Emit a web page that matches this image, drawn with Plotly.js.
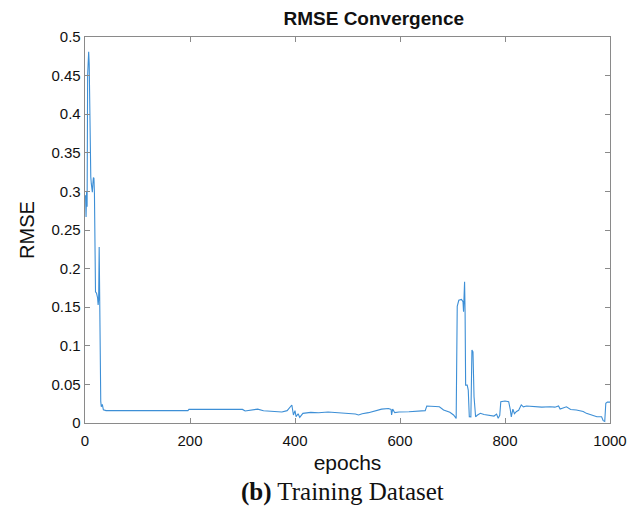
<!DOCTYPE html>
<html>
<head>
<meta charset="utf-8">
<script src="https://cdn.plot.ly/plotly-3.0.1.min.js"></script>
<style>html,body{margin:0;padding:0;background:#fff;}#chart{width:642px;height:517px;}</style>
</head>
<body>
<div id="chart"></div>
<script>
const epochs = [1,2,3,4,5,6,7,8,9,10,11,12,13,14,15,16,17,18,19,20,22,24,25,26,27,28,29,30,31,33,35,40,100,196,198,250,300,305,320,329,340,363,375,385,394,397,400,402,406,409,415,430,445,463,490,515,521,528,540,552,565,578,583,584,586,590,598,617,636,648,651,665,675,683,689,695,702,707,709,712,717,720,721,723,724,725,728,730,732,735,737,739,741,744,747,753,760,769,779,784,787,790,792,800,807,810,812,815,818,822,826,831,835,841,854,870,886,895,902,905,917,925,936,949,955,962,968,975,984,987,990,992,995,1000];
const rmse = [0.295,0.267,0.30,0.28,0.45,0.478,0.481,0.465,0.40,0.33,0.319,0.31,0.305,0.299,0.31,0.318,0.317,0.297,0.17,0.17,0.168,0.162,0.153,0.16,0.228,0.15,0.06,0.028,0.021,0.024,0.017,0.016,0.016,0.016,0.0177,0.0178,0.0176,0.0155,0.0168,0.018,0.0158,0.0147,0.0143,0.016,0.0233,0.0104,0.016,0.0082,0.012,0.0073,0.0125,0.0138,0.0132,0.0142,0.0132,0.0117,0.0104,0.012,0.0134,0.0155,0.018,0.0187,0.0176,0.0104,0.018,0.0134,0.0142,0.0145,0.016,0.016,0.022,0.0215,0.021,0.0168,0.0155,0.014,0.0104,0.006,0.151,0.159,0.16,0.157,0.144,0.183,0.142,0.049,0.049,0.0427,0.0082,0.008,0.0946,0.092,0.034,0.008,0.010,0.0125,0.011,0.0105,0.009,0.0115,0.006,0.010,0.0276,0.0285,0.0276,0.0177,0.008,0.018,0.012,0.015,0.0165,0.0235,0.021,0.022,0.021,0.0205,0.021,0.0205,0.022,0.018,0.021,0.0175,0.0168,0.015,0.0125,0.011,0.0095,0.008,0.008,0.003,0.002,0.0255,0.027,0.027];
const xTicks = [0,200,400,600,800,1000];
const yTicks = [0,0.05,0.1,0.15,0.2,0.25,0.3,0.35,0.4,0.45,0.5];
const yTickText = ['0','0.05','0.1','0.15','0.2','0.25','0.3','0.35','0.4','0.45','0.5'];

const trace = {x: epochs, y: rmse, type: 'scatter', mode: 'lines',
  line: {color: '#3d8fd6', width: 1.1}, hoverinfo: 'skip'};

const axisCommon = {showgrid: false, zeroline: false, showline: true, linecolor: '#8a8a8a', linewidth: 1.3,
  mirror: 'ticks', ticks: 'inside', ticklen: 5, tickcolor: '#8a8a8a',
  tickfont: {family: 'Liberation Sans, Arial, sans-serif', size: 15, color: '#111'}};

const layout = {
  width: 642, height: 517,
  margin: {l: 85, r: 32, t: 37, b: 94},
  paper_bgcolor: '#fff', plot_bgcolor: '#fff',
  showlegend: false,
  title: {text: '<b>RMSE Convergence</b>', x: 0.55, xref: 'paper', y: 1 - 18/517, yref: 'container', yanchor: 'middle',
    font: {family: 'Liberation Sans, Arial, sans-serif', size: 19, color: '#111'}},
  xaxis: Object.assign({}, axisCommon, {range: [0, 1000], tickvals: xTicks, ticklabelstandoff: 4,
    title: {text: 'epochs', standoff: 7, font: {family: 'Liberation Sans, Arial, sans-serif', size: 21, color: '#111'}}}),
  yaxis: Object.assign({}, axisCommon, {range: [0, 0.5], tickvals: yTicks, ticktext: yTickText,
    title: {text: 'RMSE', standoff: 11, font: {family: 'Liberation Sans, Arial, sans-serif', size: 20, color: '#111'}}}),
  annotations: [{text: '<b>(b)</b> Training Dataset', xref: 'paper', yref: 'paper', x: 0.49, y: (423 - 492) / 386,
    xanchor: 'center', yanchor: 'middle', showarrow: false,
    font: {family: 'Liberation Serif, DejaVu Serif, serif', size: 25, color: '#111'}}]
};

Plotly.newPlot('chart', [trace], layout, {staticPlot: true, displayModeBar: false});
</script>
</body>
</html>
